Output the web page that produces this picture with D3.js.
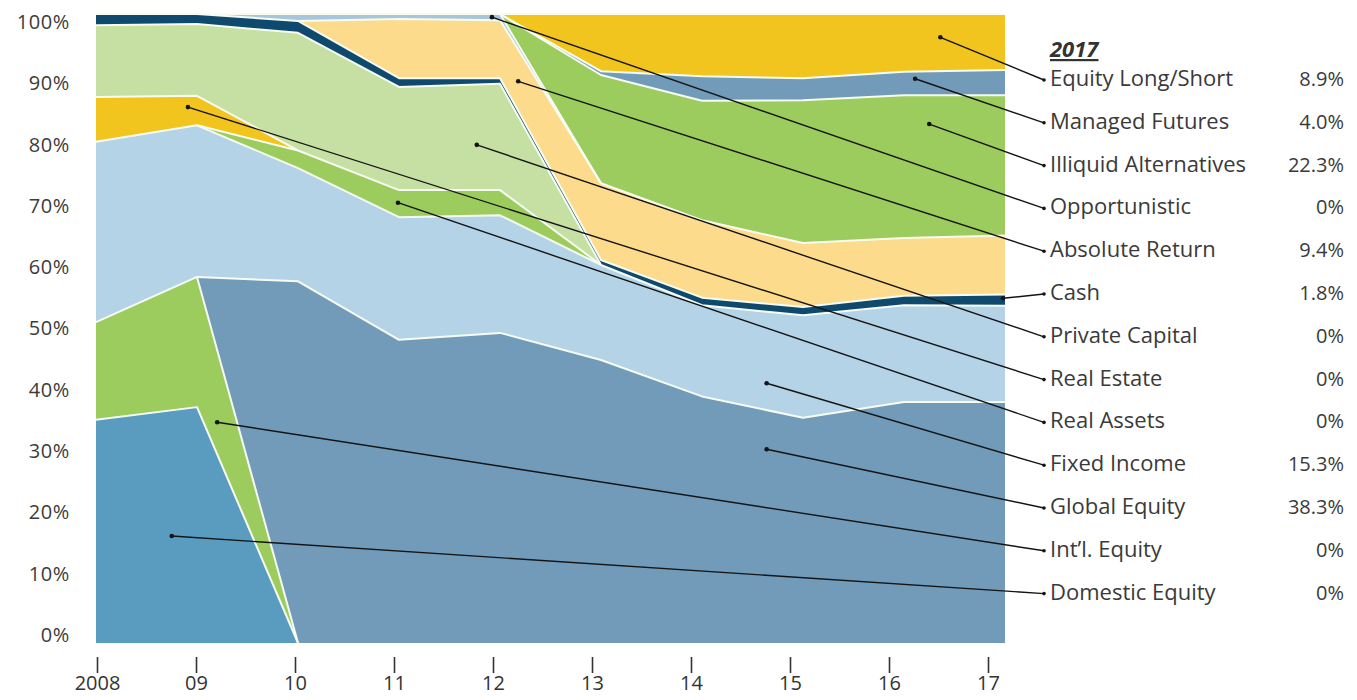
<!DOCTYPE html>
<html>
<head>
<meta charset="utf-8">
<script src="https://cdn.jsdelivr.net/npm/d3@7"></script>
<style>
  body { margin: 0; background: #ffffff; }
  text { font-family: 'Open Sans', 'Noto Sans', sans-serif; }
</style>
</head>
<body>
<svg id="chart" width="1357" height="700"></svg>
<script>
// ---------------- DATA ----------------
const years = [2008, 2009, 2010, 2011, 2012, 2013, 2014, 2015, 2016, 2017];
const xTickLabels = ["2008", "09", "10", "11", "12", "13", "14", "15", "16", "17"];
const yTickValues = [0, 0.1, 0.2, 0.3, 0.4, 0.5, 0.6, 0.7, 0.8, 0.9, 1.0];

// allocation shares (%) per year, stacked bottom to top
const domesticEquity       = [35.5, 37.5, 0,    0,    0,    0,    0,    0,    0,    0];
const intlEquity           = [15.5, 20.7, 0,    0,    0,    0,    0,    0,    0,    0];
const globalEquity         = [0,    0,    57.5, 48.2, 49.3, 45.0, 39.2, 35.8, 38.3, 38.3];
const fixedIncome          = [28.7, 24.1, 18.0, 19.5, 18.7, 15.1, 14.5, 16.3, 15.4, 15.3];
const realAssets           = [0,    0,    2.8,  4.3,  4.0,  0,    0,    0,    0,    0];
const realEstate           = [7.1,  4.7,  0,    0,    0,    0,    0,    0,    0,    0];
const privateCapital       = [11.4, 11.4, 18.7, 16.4, 16.9, 0,    0,    0,    0,    0];
const cash                 = [1.8,  1.6,  1.9,  1.4,  0.9,  0.8,  1.2,  1.3,  1.5,  1.8];
const absoluteReturn       = [0,    0,    0,    9.4,  9.2,  12.2, 12.3, 10.2, 9.2,  9.4];
const opportunistic        = [0,    0,    1.1,  0.8,  1.0,  0,    0,    0,    0,    0];
const illiquidAlternatives = [0,    0,    0,    0,    0,    17.2, 19.0, 22.7, 22.7, 22.3];
const managedFutures       = [0,    0,    0,    0,    0,    0.6,  3.9,  3.5,  3.7,  4.0];
const equityLongShort      = [0,    0,    0,    0,    0,    9.1,  9.9,  10.2, 9.2,  8.9];

// legend (top to bottom) with 2017 values
const legendTitle = "2017";
const legendNames  = ["Equity Long/Short", "Managed Futures", "Illiquid Alternatives", "Opportunistic",
                      "Absolute Return", "Cash", "Private Capital", "Real Estate", "Real Assets",
                      "Fixed Income", "Global Equity", "Int\u2019l. Equity", "Domestic Equity"];
const legendValues = ["8.9%", "4.0%", "22.3%", "0%", "9.4%", "1.8%", "0%", "0%", "0%",
                      "15.3%", "38.3%", "0%", "0%"];
// where each leader line points inside the chart, in data units [year, share]
const leaderAnchors = [[2016.36, 0.963], [2016.11, 0.897], [2016.25, 0.825], [2011.92, 0.995],
                       [2012.18, 0.893], [2016.98, 0.548], [2011.77, 0.792], [2008.91, 0.852],
                       [2010.99, 0.700], [2014.64, 0.413], [2014.64, 0.308], [2009.20, 0.351],
                       [2008.75, 0.170]];

// ---------------- SETUP ----------------
const seriesList = [
  { name: "Domestic Equity",       values: domesticEquity,       color: "#5a9cc0" },
  { name: "Int\u2019l. Equity",    values: intlEquity,           color: "#9ccb5e" },
  { name: "Global Equity",         values: globalEquity,         color: "#729bba" },
  { name: "Fixed Income",          values: fixedIncome,          color: "#b5d3e6" },
  { name: "Real Assets",           values: realAssets,           color: "#9ccb5e" },
  { name: "Real Estate",           values: realEstate,           color: "#f2c51e" },
  { name: "Private Capital",       values: privateCapital,       color: "#c6dfa3" },
  { name: "Cash",                  values: cash,                 color: "#0f4a6e" },
  { name: "Absolute Return",       values: absoluteReturn,       color: "#fddb8d" },
  { name: "Opportunistic",         values: opportunistic,        color: "#a8c6da" },
  { name: "Illiquid Alternatives", values: illiquidAlternatives, color: "#9ccb5e" },
  { name: "Managed Futures",       values: managedFutures,       color: "#729bba" },
  { name: "Equity Long/Short",     values: equityLongShort,      color: "#f2c51e" }
];
const keys = seriesList.map(s => s.name);
const table = years.map((yr, i) => {
  const row = { year: yr };
  seriesList.forEach(s => { row[s.name] = s.values[i] / 100; });
  return row;
});

const svg = d3.select("#chart");
const x = d3.scaleLinear().domain([2008, 2017]).range([96, 1005]);
const y = d3.scaleLinear().domain([0, 1]).range([643, 14]);
const xTickScale = d3.scaleLinear().domain([2008, 2017]).range([97, 988]);
const yLabelScale = d3.scaleLinear().domain([0, 1]).range([635, 22]);

const stacked = d3.stack().keys(keys)(table);

const area = d3.area()
  .x(d => x(d.data.year))
  .y0(d => y(d[0]))
  .y1(d => y(d[1]));

const gAreas = svg.append("g");
gAreas.selectAll("path.layer")
  .data(stacked)
  .join("path")
  .attr("class", "layer")
  .attr("d", area)
  .attr("fill", (d, i) => seriesList[i].color);

// white separator along each layer's top edge where the layer exists
stacked.forEach((layer, li) => {
  const vals = seriesList[li].values;
  const line = d3.line()
    .defined((d, i) => vals[i] > 0 || (i > 0 && vals[i - 1] > 0) || (i < vals.length - 1 && vals[i + 1] > 0))
    .x(d => x(d.data.year))
    .y(d => y(d[1]));
  gAreas.append("path")
    .attr("d", line(layer))
    .attr("fill", "none")
    .attr("stroke", "#f7fcf2")
    .attr("stroke-width", 2)
    .attr("stroke-linejoin", "round");
});

// ---------------- AXES ----------------
const yAxis = d3.axisLeft(yLabelScale)
  .tickValues(yTickValues)
  .tickFormat(d3.format(".0%"))
  .tickSize(0)
  .tickPadding(0);
const gy = svg.append("g").attr("transform", "translate(70,0)").call(yAxis);
gy.select(".domain").remove();
gy.selectAll("text")
  .attr("font-family", "'Open Sans', sans-serif")
  .attr("font-size", 20)
  .attr("letter-spacing", "0.6px")
  .attr("fill", "#3c3c3c");

const xAxis = d3.axisBottom(xTickScale)
  .tickValues(years)
  .tickFormat((d, i) => xTickLabels[i])
  .tickSize(16)
  .tickPadding(3);
const gx = svg.append("g").attr("transform", "translate(0,657)").call(xAxis);
gx.select(".domain").remove();
gx.selectAll(".tick line").attr("stroke", "#333").attr("stroke-width", 1.6);
gx.selectAll("text")
  .attr("font-family", "'Open Sans', sans-serif")
  .attr("font-size", 20)
  .attr("fill", "#333");

// ---------------- LEGEND + LEADERS ----------------
const legX = 1050, legValX = 1344, legY0 = 86, legStep = 42.8;
const gLeg = svg.append("g");

gLeg.append("text")
  .attr("x", legX).attr("y", 57)
  .attr("font-size", 22).attr("font-weight", 700).attr("font-style", "italic")
  .attr("text-decoration", "underline")
  .attr("fill", "#333")
  .text(legendTitle);

const gLead = svg.append("g");
legendNames.forEach((name, i) => {
  const by = legY0 + legStep * i;
  gLeg.append("text")
    .attr("x", legX).attr("y", by)
    .attr("font-size", 22).attr("fill", "#3a3a3a")
    .text(name);
  gLeg.append("text")
    .attr("x", legValX).attr("y", by)
    .attr("text-anchor", "end")
    .attr("font-size", 20).attr("fill", "#3a3a3a")
    .text(legendValues[i]);

  const ax = x(leaderAnchors[i][0]), ay = y(leaderAnchors[i][1]);
  const ex = legX - 6, ey = by - 6;
  gLead.append("line")
    .attr("x1", ax).attr("y1", ay).attr("x2", ex).attr("y2", ey)
    .attr("stroke", "#141414").attr("stroke-width", 1.4);
  gLead.append("circle").attr("cx", ax).attr("cy", ay).attr("r", 2.3).attr("fill", "#141414");
  gLead.append("circle").attr("cx", ex).attr("cy", ey).attr("r", 1.8).attr("fill", "#141414");
});
</script>
</body>
</html>
